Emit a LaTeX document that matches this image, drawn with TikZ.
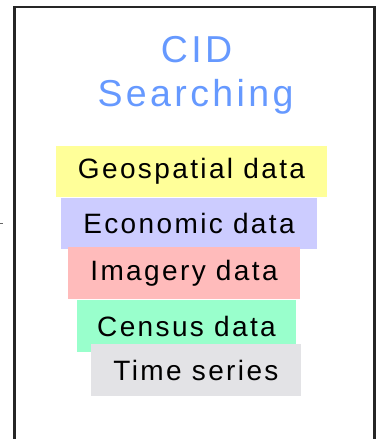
\documentclass[tikz,border=0pt]{standalone}
\usepackage{fontspec}
\setmainfont{Liberation Sans}
\newfontfamily\bodyfont[LetterSpace=8.5]{Liberation Sans}
\newfontfamily\titlefont[LetterSpace=9]{Liberation Sans}
\definecolor{geoY}{HTML}{FFFF99}
\definecolor{ecoB}{HTML}{CCCCFF}
\definecolor{imgR}{HTML}{FFBBBB}
\definecolor{cenG}{HTML}{99FFCC}
\definecolor{timG}{HTML}{E3E3E6}
\definecolor{titleB}{HTML}{6699FF}
\tikzset{
  layer/.style={rectangle, inner sep=0pt, draw=none, text=black,
    font=\bodyfont\fontsize{28}{34}\selectfont},
  frame/.style={line width=2.2pt, draw=black!85},
  titletext/.style={text=titleB, inner sep=0pt, anchor=base,
    font=\titlefont\fontsize{37.5}{44}\selectfont},
}
\begin{document}
\begin{tikzpicture}[x=1pt,y=-1pt]
\useasboundingbox (0,0) rectangle (376,439);
\begin{scope}
\clip (0,0) rectangle (376,439);
\draw[frame] (14.5,460) -- (14.5,7) -- (374.5,7) -- (374.5,460);
\end{scope}
\draw[black!60, line width=0.6pt] (0,223.5) -- (2.5,223.5);
\node[titletext] (title1) at (196.5,62) {CID};
\node[titletext] (title2) at (195.5,106) {Searching};
\node[layer, fill=geoY, minimum width=271pt, minimum height=51pt] (geo) at (191.5,171.5) {Geospatial data};
\node[layer, fill=ecoB, minimum width=256pt, minimum height=51pt] (eco) at (189,223.5) {Economic data};
\node[layer, fill=imgR, minimum width=232pt, minimum height=52pt] (img) at (184,273) {Imagery data};
\node[layer, fill=cenG, minimum width=219pt, minimum height=52pt] (cen) at (186.5,326) {Census data};
\node[layer, fill=timG, minimum width=210pt, minimum height=52pt] (tim) at (196,370) {Time series};
\end{tikzpicture}
\end{document}
